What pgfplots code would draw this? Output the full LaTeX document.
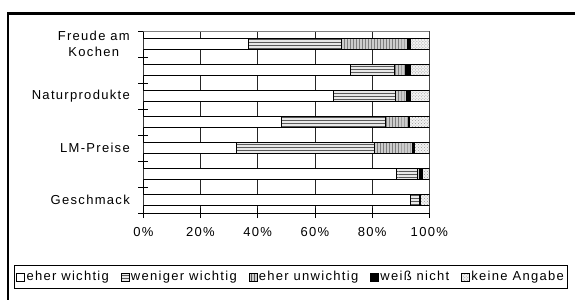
\documentclass[border=0pt]{standalone}
\usepackage{fontspec}
\setmainfont{Liberation Sans}[LetterSpace=10]
\usepackage{pgfplots}
\usepackage{pgfplotstable}
\pgfplotsset{compat=1.18}
\usetikzlibrary{patterns}

\pgfplotstableread{
y ew ww eu wn ka
6 36.9 32.5 23.0 1.1 6.5
5 72.3 15.4 3.8 1.8 6.7
4 66.4 21.7 4.0 1.4 6.5
3 48.4 36.4 7.8 0.4 7.0
2 32.7 48.0 13.5 0.7 5.1
1 88.4 7.5 0.6 0.9 2.6
0 93.4 3.1 0.2 0.3 3.0
}\data

\begin{document}
\fontsize{13bp}{16bp}\selectfont
\begin{tikzpicture}
\useasboundingbox (0,0) rectangle (575bp,-300bp);
\draw[line width=2.8bp] (8bp,-340bp) -- (8bp,-13.5bp) -- (620bp,-13.5bp);
\begin{axis}[
  at={(143.3bp,-213bp)}, anchor=south west,
  scale only axis, width=286bp, height=182bp,
  xbar stacked, bar width=10.5bp,
  xmin=0, xmax=100, ymin=-0.5, ymax=6.5,
  xtick={0,20,...,100},
  xticklabel={\pgfmathprintnumber{\tick}\%},
  xticklabel style={yshift=-5bp},
  /pgf/number format/assume math mode=true,
  xmajorgrids, grid style={black!85, line width=0.7bp},
  ytick={-0.5,0.5,...,6.5},
  yticklabels={,,,,,,,,},
  extra y ticks={0,2,4,6},
  extra y tick labels={Geschmack,LM-Preise,Naturprodukte,{Freude am\\Kochen}},
  extra y tick style={major tick length=0pt, yticklabel style={align=center, xshift=-9bp}},
  tick align=center, major tick length=10bp,
  tick style={black, line width=0.8bp},
  axis x line*=bottom, axis y line*=left,
  axis line style={-, black, line width=0.8bp},
  legend columns=5,
  legend style={at={(axis description cs:-0.452,-0.286)}, anchor=north west,
    draw=black, line width=0.8bp, inner xsep=2bp, inner ysep=4bp,
    nodes={inner xsep=1.5bp, inner ysep=2bp, anchor=west},
    /tikz/every even column/.append style={column sep=10.5bp}},
  legend image code/.code={\draw[#1, draw=black, line width=0.6bp] (0bp,-3.8bp) rectangle (8bp,3.8bp);},
  every axis plot/.append style={draw=black, line width=0.7bp},
]
\addplot[fill=white] table[x=ew, y=y] {\data};
\addplot[fill=gray!18, postaction={pattern=horizontal lines, pattern color=gray!70!black}] table[x=ww, y=y] {\data};
\addplot[fill=gray!40, postaction={pattern=vertical lines, pattern color=gray!65!black}] table[x=eu, y=y] {\data};
\addplot[fill=black] table[x=wn, y=y] {\data};
\addplot[fill=gray!10, postaction={pattern=crosshatch dots, pattern color=gray!80}] table[x=ka, y=y] {\data};
\legend{eher wichtig, weniger wichtig, eher unwichtig, weiß nicht, keine Angabe}
\draw[gray, line width=0.8bp] (rel axis cs:0,1) -- (rel axis cs:1,1) -- (rel axis cs:1,0);
\end{axis}
\end{tikzpicture}
\end{document}
